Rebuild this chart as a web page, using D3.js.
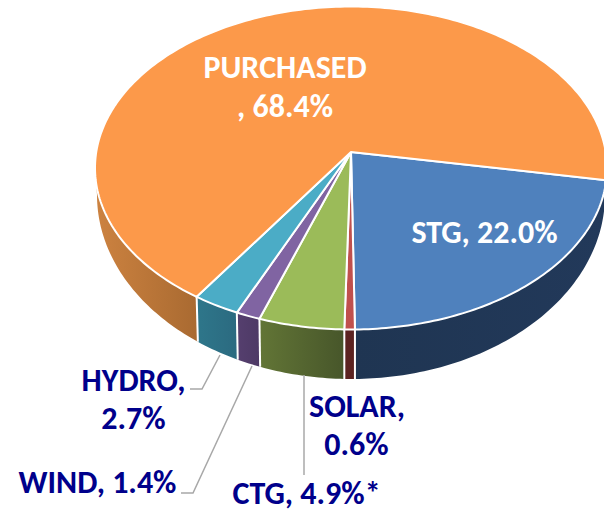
<!DOCTYPE html>
<html><head><meta charset="utf-8">
<script src="https://cdn.jsdelivr.net/npm/d3@7"></script>
<style>html,body{margin:0;padding:0;background:#fff;overflow:hidden}svg{display:block}text{font-family:Carlito,Calibri,"Open Sans","Noto Sans",sans-serif;font-weight:700}</style>
</head><body><svg width="604" height="512"></svg>
<script>
const categories=["STG","SOLAR","CTG","WIND","HYDRO","PURCHASED"];
const shares=[22.0,0.6,4.9,1.4,2.7,68.4];
const topColors=["#4F81BD","#C0504D","#9BBB59","#8064A2","#4BACC6","#FC994A"];
const wallFrom=["#1F3552","#5C2321","#627536","#553F6E","#2E768A","#CC8240"];
const wallTo=["#22395A","#5C2321","#47562A","#4D3965","#2B6A80","#A96A31"];
const svg=d3.select("svg");
const topE={cx:351,cy:168,rx:256,ry:161.5}, botE={cx:351,cy:195,rx:254,ry:184};
const apex=[351,152], tilt=0.05, startDeg=10;
const rad=d=>d*Math.PI/180;
// perspective: true pie angle -> angle on the drawn ellipse
const persp=t=>{
  const c=Math.cos(t), s=Math.sin(t);
  let p=Math.atan2(s-tilt,c)-Math.atan2(tilt*c,1-tilt*s);
  while(p<t-Math.PI) p+=2*Math.PI;
  return p;
};
const pie=d3.pie().sort(null).startAngle(rad(startDeg)).endAngle(rad(startDeg+360));
const arcs=pie(shares).map(d=>({...d,a0:persp(d.startAngle),a1:persp(d.endAngle)}));
const pt=(e,a)=>[e.cx+e.rx*Math.cos(a),e.cy+e.ry*Math.sin(a)];
const line=d3.line();
const samples=(e,a0,a1)=>{const n=Math.max(2,Math.ceil(Math.abs(a1-a0)/rad(1)));return d3.range(n+1).map(i=>pt(e,a0+(a1-a0)*i/n));};
const defs=svg.append("defs");
arcs.forEach((d,i)=>{
  const a0=i===0?0:d.a0, a1=i===5?Math.PI:d.a1;
  const xs=[pt(botE,a0)[0],pt(botE,a1)[0]];
  const g=defs.append("linearGradient").attr("id","w"+i).attr("gradientUnits","userSpaceOnUse")
    .attr("x1",d3.min(xs)).attr("x2",d3.max(xs)).attr("y1",0).attr("y2",0);
  g.append("stop").attr("offset",0).attr("stop-color",wallFrom[i]);
  g.append("stop").attr("offset",1).attr("stop-color",wallTo[i]);
  svg.append("path").attr("d",line(samples(topE,a0,a1).concat(samples(botE,a0,a1).reverse()))+"Z")
    .attr("fill","url(#w"+i+")");
});
arcs.slice(1).forEach(d=>{
  svg.append("path").attr("d",line([pt(topE,d.a0),pt(botE,d.a0)])).attr("stroke","#fff").attr("stroke-width",2);
});
arcs.forEach((d,i)=>{
  svg.append("path").attr("d",line([apex].concat(samples(topE,d.a0,d.a1)))+"Z")
    .attr("fill",topColors[i]).attr("stroke","#fff").attr("stroke-width",2).attr("stroke-linejoin","round");
});
const leaders=[[[220,355],[202,389],[190,389]],[[252,366],[193,493],[181,493]],[[304,375],[304,475]]];
leaders.forEach(p=>svg.append("path").attr("d",line(p)).attr("fill","none").attr("stroke","#A8A8A8").attr("stroke-width",1.5));
const labels=[
 ["PURCHASED",285,78,"#fff"],[", 68.4%",285,117,"#fff"],
 ["STG, 22.0%",484.5,243,"#fff"],
 ["HYDRO,",133.5,391,"#00008B"],["2.7%",133.5,429,"#00008B"],
 ["SOLAR,",357,417,"#00008B"],["0.6%",356.5,455,"#00008B"],
 ["WIND, 1.4%",97.5,493,"#00008B"],["CTG, 4.9%*",306.5,504,"#00008B"]];
labels.forEach(l=>svg.append("text").attr("x",l[1]).attr("y",l[2]).attr("text-anchor","middle")
  .attr("font-size",32).attr("fill",l[3]).text(l[0]));
</script></body></html>
